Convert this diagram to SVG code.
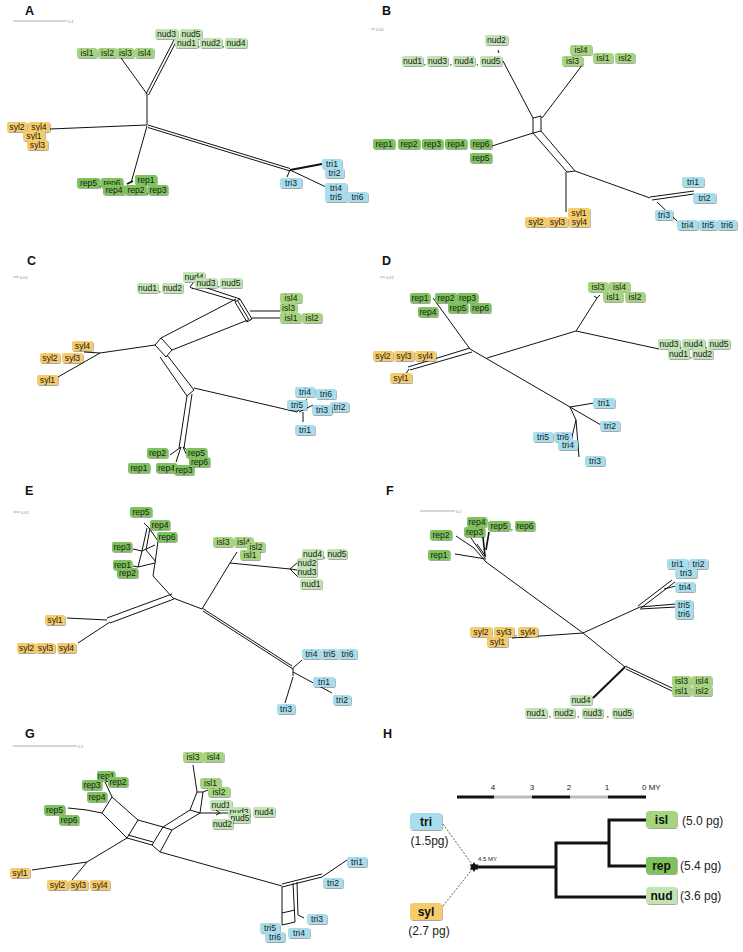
<svg xmlns="http://www.w3.org/2000/svg" width="743" height="952" viewBox="0 0 743 952">
<defs>
<filter id="sh" x="-20%" y="-30%" width="150%" height="170%"><feDropShadow dx="0.8" dy="1" stdDeviation="0.7" flood-color="#000" flood-opacity="0.35"/></filter>
<style>
.lb rect{rx:2px;filter:url(#sh)}
.lb text{font:8.6px "Liberation Sans",Arial,sans-serif;text-anchor:middle;fill:#1a1a1a}
.syl rect{fill:#F6CB6B}.isl rect{fill:#A5D57D}.rep rect{fill:#7DC25A}.nud rect{fill:#C1E4B3}.tri rect{fill:#A7DDEC}
.cm{font:9px "Liberation Sans",Arial,sans-serif;fill:#222}
.e path{stroke:#111;stroke-width:1;fill:none}
.pl{font:bold 12.5px "Liberation Sans",Arial,sans-serif;fill:#111}
.sb line{stroke:#999;stroke-width:0.8}
.sb text{font:4px "Liberation Sans",Arial,sans-serif;fill:#888}
.hb rect{rx:3px;filter:url(#sh)}
.hb text{font:bold 12px "Liberation Sans",Arial,sans-serif;text-anchor:middle;fill:#111}
.hv{font:12px "Liberation Sans",Arial,sans-serif;fill:#222}
.hs{font:8px "Liberation Sans",Arial,sans-serif;fill:#222}
</style>
</defs>
<rect width="743" height="952" fill="#fff"/>

<!-- ================= PANEL A ================= -->
<g id="panel-A">
<text class="pl" x="25" y="15">A</text>
<g class="sb"><line x1="13" y1="21" x2="67" y2="21"/><text x="68" y="22.5">0.1</text></g>
<g id="A-edges" class="e">
<path d="M147,125V94M147,94L121,58M146,94L174,40M148.5,95L176.5,41M147,125L50,129M147,126L131,183M148,125L290,168.5M148,127.5L290,171M290,170L326,187M290,170L287,177"/>
<path d="M127,184L133,181M290,170L322,164" style="stroke-width:1.8"/>
</g>
<g id="A-nodes">
<g id="A-nud3" class="lb nud"><rect x="155" y="29" width="23" height="10"/><text x="166.5" y="37">nud3</text></g>
<g id="A-nud5" class="lb nud"><rect x="180" y="29" width="22" height="10"/><text x="191" y="37">nud5</text></g>
<g id="A-nud1" class="lb nud"><rect x="175" y="38" width="23" height="10"/><text x="186.5" y="46">nud1</text></g>
<g id="A-nud2" class="lb nud"><rect x="200" y="38" width="22" height="10"/><text x="211" y="46">nud2</text></g>
<g id="A-nud4" class="lb nud"><rect x="225" y="38" width="22" height="10"/><text x="236" y="46">nud4</text></g>
<text class="cm" x="197.5" y="47">,</text><text class="cm" x="222" y="47">,</text>
<g id="A-isl1" class="lb isl"><rect x="77" y="48" width="20" height="10"/><text x="87" y="56">isl1</text></g>
<g id="A-isl2" class="lb isl"><rect x="98" y="48" width="19" height="10"/><text x="107.5" y="56">isl2</text></g>
<g id="A-isl3" class="lb isl"><rect x="117" y="48" width="17" height="10"/><text x="125.5" y="56">isl3</text></g>
<g id="A-isl4" class="lb isl"><rect x="135" y="48" width="19" height="10"/><text x="144.5" y="56">isl4</text></g>
<g id="A-syl2" class="lb syl"><rect x="7" y="122" width="20" height="10"/><text x="17" y="130">syl2</text></g>
<g id="A-syl4" class="lb syl"><rect x="28" y="122" width="22" height="10"/><text x="39" y="130">syl4</text></g>
<g id="A-syl1" class="lb syl"><rect x="23" y="131" width="22" height="10"/><text x="34" y="139">syl1</text></g>
<g id="A-syl3" class="lb syl"><rect x="27" y="140" width="21" height="10"/><text x="37.5" y="148">syl3</text></g>
<g id="A-rep5" class="lb rep"><rect x="77" y="178" width="23" height="10"/><text x="88.5" y="186">rep5</text></g>
<g id="A-rep6" class="lb rep"><rect x="101" y="178" width="22" height="10"/><text x="112" y="186">rep6</text></g>
<g id="A-rep1" class="lb rep"><rect x="135" y="175" width="22" height="10"/><text x="146" y="183">rep1</text></g>
<g id="A-rep4" class="lb rep"><rect x="103" y="185" width="22" height="10"/><text x="114" y="193">rep4</text></g>
<g id="A-rep2" class="lb rep"><rect x="125" y="185" width="22" height="10"/><text x="136" y="193">rep2</text></g>
<g id="A-rep3" class="lb rep"><rect x="148" y="185" width="20" height="10"/><text x="158" y="193">rep3</text></g>
<text class="cm" x="99" y="187">,</text><text class="cm" x="146" y="194">,</text>
<g id="A-tri1" class="lb tri"><rect x="322" y="159" width="20" height="10"/><text x="332" y="167">tri1</text></g>
<g id="A-tri2" class="lb tri"><rect x="325" y="168" width="19" height="10"/><text x="334.5" y="176">tri2</text></g>
<g id="A-tri3" class="lb tri"><rect x="280" y="178" width="22" height="10"/><text x="291" y="186">tri3</text></g>
<g id="A-tri4" class="lb tri"><rect x="325" y="183" width="22" height="10"/><text x="336" y="191">tri4</text></g>
<g id="A-tri5" class="lb tri"><rect x="325" y="192" width="22" height="10"/><text x="336" y="200">tri5</text></g>
<g id="A-tri6" class="lb tri"><rect x="347" y="192" width="21" height="10"/><text x="357.5" y="200">tri6</text></g>
</g>
</g>

<!-- ================= PANEL B ================= -->
<g id="panel-B">
<text class="pl" x="382" y="15">B</text>
<g class="sb"><line x1="371" y1="29" x2="375" y2="29"/><text x="376" y="30.5">0.01</text></g>
<g id="B-edges" class="e">
<path d="M498,50L499,53M503,61L533,118M583,64L542,118M533,118L541,116V131L533,133ZM492,146L533,133M533,133L567,172M541,131L575,171M567,172L575,171M566,172V212M575,171L650,198M650,197L694,191M652,200L694,194M657,202L677,221"/>
</g>
<g id="B-nodes">
<g id="B-nud2" class="lb nud"><rect x="485" y="35" width="23" height="10"/><text x="496.5" y="43">nud2</text></g>
<g id="B-nud1" class="lb nud"><rect x="402" y="56" width="21" height="10"/><text x="412.5" y="64">nud1</text></g>
<g id="B-nud3" class="lb nud"><rect x="427" y="56" width="21" height="10"/><text x="437.5" y="64">nud3</text></g>
<g id="B-nud4" class="lb nud"><rect x="453" y="56" width="22" height="10"/><text x="464" y="64">nud4</text></g>
<g id="B-nud5" class="lb nud"><rect x="480" y="56" width="22" height="10"/><text x="491" y="64">nud5</text></g>
<text class="cm" x="423.5" y="65">,</text><text class="cm" x="449.5" y="65">,</text><text class="cm" x="476" y="65">,</text>
<g id="B-isl3" class="lb isl"><rect x="562" y="56" width="21" height="10"/><text x="572.5" y="64">isl3</text></g>
<g id="B-isl4" class="lb isl"><rect x="570" y="45" width="22" height="10"/><text x="581" y="53">isl4</text></g>
<g id="B-isl1" class="lb isl"><rect x="593" y="53" width="20" height="10"/><text x="603" y="61">isl1</text></g>
<g id="B-isl2" class="lb isl"><rect x="615" y="53" width="20" height="10"/><text x="625" y="61">isl2</text></g>
<g id="B-rep1" class="lb rep"><rect x="373" y="139" width="22" height="10"/><text x="384" y="147">rep1</text></g>
<g id="B-rep2" class="lb rep"><rect x="398" y="139" width="22" height="10"/><text x="409" y="147">rep2</text></g>
<g id="B-rep3" class="lb rep"><rect x="422" y="139" width="21" height="10"/><text x="432.5" y="147">rep3</text></g>
<g id="B-rep4" class="lb rep"><rect x="445" y="139" width="22" height="10"/><text x="456" y="147">rep4</text></g>
<g id="B-rep6" class="lb rep"><rect x="470" y="139" width="22" height="10"/><text x="481" y="147">rep6</text></g>
<g id="B-rep5" class="lb rep"><rect x="470" y="153" width="22" height="10"/><text x="481" y="161">rep5</text></g>
<g id="B-syl1" class="lb syl"><rect x="568" y="208" width="22" height="10"/><text x="579" y="216">syl1</text></g>
<g id="B-syl2" class="lb syl"><rect x="525" y="217" width="22" height="10"/><text x="536" y="225">syl2</text></g>
<g id="B-syl3" class="lb syl"><rect x="547" y="217" width="21" height="10"/><text x="557.5" y="225">syl3</text></g>
<g id="B-syl4" class="lb syl"><rect x="569" y="217" width="21" height="10"/><text x="579.5" y="225">syl4</text></g>
<g id="B-tri1" class="lb tri"><rect x="682" y="177" width="22" height="10"/><text x="693" y="185">tri1</text></g>
<g id="B-tri2" class="lb tri"><rect x="693" y="193" width="23" height="10"/><text x="704.5" y="201">tri2</text></g>
<g id="B-tri3" class="lb tri"><rect x="655" y="210" width="18" height="10"/><text x="664" y="218">tri3</text></g>
<g id="B-tri4" class="lb tri"><rect x="677" y="220" width="21" height="10"/><text x="687.5" y="228">tri4</text></g>
<g id="B-tri5" class="lb tri"><rect x="699" y="220" width="18" height="10"/><text x="708" y="228">tri5</text></g>
<g id="B-tri6" class="lb tri"><rect x="717" y="220" width="20" height="10"/><text x="727" y="228">tri6</text></g>
</g>
</g>

<!-- ================= PANEL C ================= -->
<g id="panel-C">
<text class="pl" x="27" y="265">C</text>
<g class="sb"><line x1="13" y1="277" x2="19" y2="277"/><text x="20" y="278.5">0.01</text></g>
<g id="C-edges" class="e">
<path d="M155,345L161,338L172,350L166,357ZM155,345L100,353M100,353L84,352M100,353L58,377M161,338L236,299M172,350L248,320M235,302L240,299L252,319L247,322ZM237.5,300.5L249.5,320.5M250,311H280M252,318H280M236,301L192,288M240,299L195,284M193,283L190,287L193,289M160,357L187,396M167,355L194,390M187,396L194,390M194,388L297,412M297,412L307,399M299,412L313,405M303,412V422M187,396L179,448M192,394L184,448M181,447L170,455M181,447L176,462M183,447L188,458M183,447L190,452"/>
</g>
<g id="C-nodes">
<g id="C-nud1" class="lb nud"><rect x="137" y="283" width="21" height="10"/><text x="147.5" y="291">nud1</text></g>
<g id="C-nud2" class="lb nud"><rect x="162" y="283" width="21" height="10"/><text x="172.5" y="291">nud2</text></g>
<g id="C-nud4" class="lb nud"><rect x="183" y="272" width="22" height="10"/><text x="194" y="280">nud4</text></g>
<g id="C-nud3" class="lb nud"><rect x="195" y="278" width="22" height="10"/><text x="206" y="286">nud3</text></g>
<g id="C-nud5" class="lb nud"><rect x="220" y="278" width="22" height="10"/><text x="231" y="286">nud5</text></g>
<text class="cm" x="158.5" y="292">,</text><text class="cm" x="217.5" y="287">,</text>
<g id="C-isl4" class="lb isl"><rect x="280" y="293" width="22" height="10"/><text x="291" y="301">isl4</text></g>
<g id="C-isl3" class="lb isl"><rect x="280" y="303" width="17" height="10"/><text x="288.5" y="311">isl3</text></g>
<g id="C-isl1" class="lb isl"><rect x="280" y="313" width="21" height="10"/><text x="291" y="321">isl1</text></g>
<g id="C-isl2" class="lb isl"><rect x="302" y="313" width="20" height="10"/><text x="312" y="321">isl2</text></g>
<g id="C-syl4" class="lb syl"><rect x="72" y="341" width="21" height="10"/><text x="82.5" y="349">syl4</text></g>
<g id="C-syl2" class="lb syl"><rect x="40" y="353" width="20" height="10"/><text x="50" y="361">syl2</text></g>
<g id="C-syl3" class="lb syl"><rect x="62" y="353" width="21" height="10"/><text x="72.5" y="361">syl3</text></g>
<g id="C-syl1" class="lb syl"><rect x="37" y="375" width="21" height="10"/><text x="47.5" y="383">syl1</text></g>
<g id="C-tri4" class="lb tri"><rect x="295" y="387" width="20" height="10"/><text x="305" y="395">tri4</text></g>
<g id="C-tri6" class="lb tri"><rect x="316" y="389" width="20" height="10"/><text x="326" y="397">tri6</text></g>
<g id="C-tri5" class="lb tri"><rect x="287" y="400" width="20" height="10"/><text x="297" y="408">tri5</text></g>
<g id="C-tri2" class="lb tri"><rect x="330" y="402" width="19" height="10"/><text x="339.5" y="410">tri2</text></g>
<g id="C-tri3" class="lb tri"><rect x="312" y="405" width="20" height="10"/><text x="322" y="413">tri3</text></g>
<g id="C-tri1" class="lb tri"><rect x="295" y="425" width="20" height="10"/><text x="305" y="433">tri1</text></g>
<g id="C-rep2" class="lb rep"><rect x="147" y="448" width="21" height="10"/><text x="157.5" y="456">rep2</text></g>
<g id="C-rep5" class="lb rep"><rect x="186" y="448" width="21" height="10"/><text x="196.5" y="456">rep5</text></g>
<g id="C-rep6" class="lb rep"><rect x="189" y="457" width="21" height="10"/><text x="199.5" y="465">rep6</text></g>
<g id="C-rep1" class="lb rep"><rect x="128" y="463" width="22" height="10"/><text x="139" y="471">rep1</text></g>
<g id="C-rep4" class="lb rep"><rect x="156" y="463" width="21" height="10"/><text x="166.5" y="471">rep4</text></g>
<g id="C-rep3" class="lb rep"><rect x="174" y="465" width="20" height="10"/><text x="184" y="473">rep3</text></g>
</g>
</g>

<!-- ================= PANEL D ================= -->
<g id="panel-D">
<text class="pl" x="382" y="265">D</text>
<g class="sb"><line x1="380" y1="277" x2="385" y2="277"/><text x="386" y="278.5">0.01</text></g>
<g id="D-edges" class="e">
<path d="M470,349L433,298M470,348L408,367M472,352L410,370M409,369L405,375M487,358L576,331M576,331L597,298M597,298L600,295M597,298L594,296M576,331L659,349M470,349L570,407M570,407L594,403M570,407L601,425M570,407L576,420L571,441M576,420L579,457"/>
</g>
<g id="D-nodes">
<g id="D-rep1" class="lb rep"><rect x="410" y="293" width="20" height="10"/><text x="420" y="301">rep1</text></g>
<g id="D-rep2" class="lb rep"><rect x="435" y="293" width="22" height="10"/><text x="446" y="301">rep2</text></g>
<g id="D-rep3" class="lb rep"><rect x="457" y="293" width="21" height="10"/><text x="467.5" y="301">rep3</text></g>
<g id="D-rep4" class="lb rep"><rect x="418" y="307" width="20" height="10"/><text x="428" y="315">rep4</text></g>
<g id="D-rep5" class="lb rep"><rect x="448" y="303" width="20" height="10"/><text x="458" y="311">rep5</text></g>
<g id="D-rep6" class="lb rep"><rect x="470" y="303" width="21" height="10"/><text x="480.5" y="311">rep6</text></g>
<g id="D-isl3" class="lb isl"><rect x="588" y="282" width="20" height="10"/><text x="598" y="290">isl3</text></g>
<g id="D-isl4" class="lb isl"><rect x="609" y="282" width="21" height="10"/><text x="619.5" y="290">isl4</text></g>
<g id="D-isl1" class="lb isl"><rect x="603" y="292" width="20" height="10"/><text x="613" y="300">isl1</text></g>
<g id="D-isl2" class="lb isl"><rect x="625" y="292" width="20" height="10"/><text x="635" y="300">isl2</text></g>
<g id="D-nud3" class="lb nud"><rect x="658" y="339" width="22" height="10"/><text x="669" y="347">nud3</text></g>
<g id="D-nud4" class="lb nud"><rect x="682" y="339" width="23" height="10"/><text x="693.5" y="347">nud4</text></g>
<g id="D-nud5" class="lb nud"><rect x="708" y="339" width="22" height="10"/><text x="719" y="347">nud5</text></g>
<g id="D-nud1" class="lb nud"><rect x="668" y="349" width="21" height="10"/><text x="678.5" y="357">nud1</text></g>
<g id="D-nud2" class="lb nud"><rect x="692" y="349" width="21" height="10"/><text x="702.5" y="357">nud2</text></g>
<text class="cm" x="679.5" y="348">,</text><text class="cm" x="705" y="348">,</text><text class="cm" x="689.5" y="358">,</text>
<g id="D-syl2" class="lb syl"><rect x="373" y="351" width="20" height="10"/><text x="383" y="359">syl2</text></g>
<g id="D-syl3" class="lb syl"><rect x="394" y="351" width="20" height="10"/><text x="404" y="359">syl3</text></g>
<g id="D-syl4" class="lb syl"><rect x="415" y="351" width="21" height="10"/><text x="425.5" y="359">syl4</text></g>
<g id="D-syl1" class="lb syl"><rect x="390" y="373" width="22" height="10"/><text x="401" y="381">syl1</text></g>
<g id="D-tri1" class="lb tri"><rect x="593" y="398" width="22" height="10"/><text x="604" y="406">tri1</text></g>
<g id="D-tri2" class="lb tri"><rect x="600" y="421" width="20" height="10"/><text x="610" y="429">tri2</text></g>
<g id="D-tri5" class="lb tri"><rect x="533" y="432" width="20" height="10"/><text x="543" y="440">tri5</text></g>
<g id="D-tri6" class="lb tri"><rect x="554" y="432" width="18" height="10"/><text x="563" y="440">tri6</text></g>
<g id="D-tri4" class="lb tri"><rect x="558" y="440" width="20" height="10"/><text x="568" y="448">tri4</text></g>
<g id="D-tri3" class="lb tri"><rect x="585" y="456" width="20" height="10"/><text x="595" y="464">tri3</text></g>
</g>
</g>

<!-- ================= PANEL E ================= -->
<g id="panel-E">
<text class="pl" x="25" y="495">E</text>
<g class="sb"><line x1="13" y1="512" x2="20" y2="512"/><text x="21" y="513.5">0.01</text></g>
<g id="E-edges" class="e">
<path d="M173,598L153,576M153,576L155,563L158,541L149,528L144,523M147,528L142,551M150,528L146,550M142,551L155,545M146,550L156,562M133,549L142,551M142,551L138,567L155,563M138,567L133,566M172,594L107,618M174,599L110,623M107,620L67,618M110,622L78,643M173,598L202,609M202,609L230,563M230,563L237,552M230,563L290,569M290,569L297,563M290,569L298,577M290,569L297,570M202,608L292,666M203,611L293,669M293,668L302,660M293,668V676M293,672L332,693M293,677L285,703"/>
</g>
<g id="E-nodes">
<g id="E-rep5" class="lb rep"><rect x="130" y="507" width="22" height="10"/><text x="141" y="515">rep5</text></g>
<g id="E-rep4" class="lb rep"><rect x="150" y="520" width="20" height="10"/><text x="160" y="528">rep4</text></g>
<g id="E-rep6" class="lb rep"><rect x="157" y="532" width="20" height="10"/><text x="167" y="540">rep6</text></g>
<g id="E-rep3" class="lb rep"><rect x="112" y="542" width="20" height="10"/><text x="122" y="550">rep3</text></g>
<g id="E-rep1" class="lb rep"><rect x="113" y="560" width="19" height="10"/><text x="122.5" y="568">rep1</text></g>
<g id="E-rep2" class="lb rep"><rect x="117" y="568" width="21" height="10"/><text x="127.5" y="576">rep2</text></g>
<g id="E-isl3" class="lb isl"><rect x="213" y="537" width="20" height="10"/><text x="223" y="545">isl3</text></g>
<g id="E-isl4" class="lb isl"><rect x="234" y="537" width="19" height="10"/><text x="243.5" y="545">isl4</text></g>
<g id="E-isl2" class="lb isl"><rect x="247" y="542" width="18" height="10"/><text x="256" y="550">isl2</text></g>
<g id="E-isl1" class="lb isl"><rect x="240" y="550" width="20" height="10"/><text x="250" y="558">isl1</text></g>
<g id="E-nud4" class="lb nud"><rect x="302" y="549" width="21" height="10"/><text x="312.5" y="557">nud4</text></g>
<g id="E-nud5" class="lb nud"><rect x="327" y="549" width="20" height="10"/><text x="337" y="557">nud5</text></g>
<text class="cm" x="323" y="558">,</text>
<g id="E-nud2" class="lb nud"><rect x="297" y="558" width="20" height="10"/><text x="307" y="566">nud2</text></g>
<g id="E-nud3" class="lb nud"><rect x="297" y="567" width="20" height="10"/><text x="307" y="575">nud3</text></g>
<g id="E-nud1" class="lb nud"><rect x="300" y="579" width="22" height="10"/><text x="311" y="587">nud1</text></g>
<g id="E-syl1" class="lb syl"><rect x="45" y="615" width="20" height="10"/><text x="55" y="623">syl1</text></g>
<g id="E-syl2" class="lb syl"><rect x="17" y="643" width="19" height="10"/><text x="26.5" y="651">syl2</text></g>
<g id="E-syl3" class="lb syl"><rect x="36" y="643" width="19" height="10"/><text x="45.5" y="651">syl3</text></g>
<g id="E-syl4" class="lb syl"><rect x="57" y="643" width="19" height="10"/><text x="66.5" y="651">syl4</text></g>
<g id="E-tri4" class="lb tri"><rect x="302" y="649" width="19" height="10"/><text x="311.5" y="657">tri4</text></g>
<g id="E-tri5" class="lb tri"><rect x="321" y="649" width="17" height="10"/><text x="329.5" y="657">tri5</text></g>
<g id="E-tri6" class="lb tri"><rect x="338" y="649" width="19" height="10"/><text x="347.5" y="657">tri6</text></g>
<g id="E-tri1" class="lb tri"><rect x="313" y="677" width="22" height="10"/><text x="324" y="685">tri1</text></g>
<g id="E-tri2" class="lb tri"><rect x="333" y="695" width="18" height="10"/><text x="342" y="703">tri2</text></g>
<g id="E-tri3" class="lb tri"><rect x="277" y="704" width="18" height="10"/><text x="286" y="712">tri3</text></g>
</g>
</g>

<!-- ================= PANEL F ================= -->
<g id="panel-F">
<text class="pl" x="386" y="495">F</text>
<g class="sb"><line x1="420" y1="511" x2="455" y2="511"/><text x="456" y="512.5">0.1</text></g>
<g id="F-edges" class="e">
<path d="M456,536L474,548L486,562M455,554L486,559M471,538L485,558M477,544L486,557M486,562L583,633M583,633L512,638M583,633L640,607M640,607L676,604M640,609L676,607M638,606L672,580M641,608L675,582M664,589L676,586M583,633L625,667M625,666L672,688M626,669L672,691"/>
<path d="M483,537L485,556M489,532L486,550" style="stroke-width:1.6"/>
<path d="M625,667L593,698" style="stroke-width:2"/>
</g>
<g id="F-nodes">
<g id="F-rep2" class="lb rep"><rect x="430" y="530" width="22" height="10"/><text x="441" y="538">rep2</text></g>
<g id="F-rep1" class="lb rep"><rect x="428" y="550" width="22" height="10"/><text x="439" y="558">rep1</text></g>
<g id="F-rep4" class="lb rep"><rect x="467" y="517" width="20" height="10"/><text x="477" y="525">rep4</text></g>
<g id="F-rep3" class="lb rep"><rect x="464" y="527" width="21" height="10"/><text x="474.5" y="535">rep3</text></g>
<g id="F-rep5" class="lb rep"><rect x="488" y="521" width="22" height="10"/><text x="499" y="529">rep5</text></g>
<g id="F-rep6" class="lb rep"><rect x="515" y="521" width="20" height="10"/><text x="525" y="529">rep6</text></g>
<text class="cm" x="510.5" y="530">,</text>
<g id="F-tri1" class="lb tri"><rect x="667" y="559" width="21" height="10"/><text x="677.5" y="567">tri1</text></g>
<g id="F-tri2" class="lb tri"><rect x="689" y="559" width="19" height="10"/><text x="698.5" y="567">tri2</text></g>
<g id="F-tri3" class="lb tri"><rect x="675" y="568" width="22" height="10"/><text x="686" y="576">tri3</text></g>
<g id="F-tri4" class="lb tri"><rect x="675" y="582" width="20" height="10"/><text x="685" y="590">tri4</text></g>
<g id="F-tri5" class="lb tri"><rect x="675" y="600" width="18" height="10"/><text x="684" y="608">tri5</text></g>
<g id="F-tri6" class="lb tri"><rect x="675" y="609" width="18" height="10"/><text x="684" y="617">tri6</text></g>
<g id="F-syl2" class="lb syl"><rect x="470" y="627" width="22" height="10"/><text x="481" y="635">syl2</text></g>
<g id="F-syl3" class="lb syl"><rect x="494" y="627" width="20" height="10"/><text x="504" y="635">syl3</text></g>
<g id="F-syl4" class="lb syl"><rect x="518" y="627" width="20" height="10"/><text x="528" y="635">syl4</text></g>
<text class="cm" x="514.5" y="636">,</text>
<g id="F-syl1" class="lb syl"><rect x="487" y="637" width="21" height="10"/><text x="497.5" y="645">syl1</text></g>
<g id="F-isl3" class="lb isl"><rect x="672" y="676" width="19" height="10"/><text x="681.5" y="684">isl3</text></g>
<g id="F-isl4" class="lb isl"><rect x="692" y="676" width="20" height="10"/><text x="702" y="684">isl4</text></g>
<g id="F-isl1" class="lb isl"><rect x="672" y="686" width="19" height="10"/><text x="681.5" y="694">isl1</text></g>
<g id="F-isl2" class="lb isl"><rect x="692" y="686" width="20" height="10"/><text x="702" y="694">isl2</text></g>
<g id="F-nud4" class="lb nud"><rect x="570" y="695" width="22" height="10"/><text x="581" y="703">nud4</text></g>
<g id="F-nud1" class="lb nud"><rect x="525" y="708" width="22" height="10"/><text x="536" y="716">nud1</text></g>
<g id="F-nud2" class="lb nud"><rect x="553" y="708" width="22" height="10"/><text x="564" y="716">nud2</text></g>
<g id="F-nud3" class="lb nud"><rect x="582" y="708" width="21" height="10"/><text x="592.5" y="716">nud3</text></g>
<g id="F-nud5" class="lb nud"><rect x="612" y="708" width="21" height="10"/><text x="622.5" y="716">nud5</text></g>
<text class="cm" x="548.5" y="717">,</text><text class="cm" x="577" y="717">,</text><text class="cm" x="606.5" y="717">,</text>
</g>
</g>

<!-- ================= PANEL G ================= -->
<g id="panel-G">
<text class="pl" x="25" y="738">G</text>
<g class="sb"><line x1="13" y1="746" x2="77" y2="746"/><text x="78" y="747.5">0.1</text></g>
<g id="G-edges" class="e">
<path d="M68,808Q85,809 102,813M102,813L112,797L138,820L127,838ZM112,797L105,782M106,782L110,780M138,820L163,827M127,838L152,845M128,835L153,842M152,845L163,827L172,830L160,852ZM172,830L200,813M163,827L190,810M190,810L197,792L203,792L200,813ZM197,792L193,765M203,792L208,790M200,813L228,813M216,810L220,813L216,815M127,838L87,862M87,862L32,870M87,862L72,880M160,852L282,886M282,887L322,877M282,884L322,874M322,877L347,860M282,887V925M293,883L295,922M297,882L298,915M282,913L295,910M282,925L295,922M298,915L304,918"/>
</g>
<g id="G-nodes">
<g id="G-isl3" class="lb isl"><rect x="183" y="752" width="20" height="10"/><text x="193" y="760">isl3</text></g>
<g id="G-isl4" class="lb isl"><rect x="203" y="752" width="21" height="10"/><text x="213.5" y="760">isl4</text></g>
<g id="G-isl1" class="lb isl"><rect x="200" y="778" width="21" height="10"/><text x="210.5" y="786">isl1</text></g>
<g id="G-isl2" class="lb isl"><rect x="208" y="787" width="22" height="10"/><text x="219" y="795">isl2</text></g>
<g id="G-nud1" class="lb nud"><rect x="210" y="800" width="22" height="10"/><text x="221" y="808">nud1</text></g>
<g id="G-nud3" class="lb nud"><rect x="228" y="807" width="22" height="10"/><text x="239" y="815">nud3</text></g>
<g id="G-nud4" class="lb nud"><rect x="253" y="807" width="22" height="10"/><text x="264" y="815">nud4</text></g>
<g id="G-nud5" class="lb nud"><rect x="230" y="813" width="20" height="10"/><text x="240" y="821">nud5</text></g>
<g id="G-nud2" class="lb nud"><rect x="212" y="819" width="21" height="10"/><text x="222.5" y="827">nud2</text></g>
<g id="G-rep1" class="lb rep"><rect x="97" y="771" width="18" height="10"/><text x="106" y="779">rep1</text></g>
<g id="G-rep3" class="lb rep"><rect x="82" y="780" width="20" height="10"/><text x="92" y="788">rep3</text></g>
<g id="G-rep2" class="lb rep"><rect x="108" y="777" width="20" height="10"/><text x="118" y="785">rep2</text></g>
<g id="G-rep4" class="lb rep"><rect x="87" y="792" width="20" height="10"/><text x="97" y="800">rep4</text></g>
<g id="G-rep5" class="lb rep"><rect x="44" y="805" width="21" height="10"/><text x="54.5" y="813">rep5</text></g>
<g id="G-rep6" class="lb rep"><rect x="59" y="815" width="20" height="10"/><text x="69" y="823">rep6</text></g>
<g id="G-syl1" class="lb syl"><rect x="10" y="868" width="20" height="10"/><text x="20" y="876">syl1</text></g>
<g id="G-syl2" class="lb syl"><rect x="47" y="880" width="21" height="10"/><text x="57.5" y="888">syl2</text></g>
<g id="G-syl3" class="lb syl"><rect x="69" y="880" width="19" height="10"/><text x="78.5" y="888">syl3</text></g>
<g id="G-syl4" class="lb syl"><rect x="90" y="880" width="20" height="10"/><text x="100" y="888">syl4</text></g>
<g id="G-tri1" class="lb tri"><rect x="347" y="857" width="20" height="10"/><text x="357" y="865">tri1</text></g>
<g id="G-tri2" class="lb tri"><rect x="323" y="878" width="20" height="10"/><text x="333" y="886">tri2</text></g>
<g id="G-tri3" class="lb tri"><rect x="307" y="914" width="20" height="10"/><text x="317" y="922">tri3</text></g>
<g id="G-tri5" class="lb tri"><rect x="260" y="923" width="20" height="10"/><text x="270" y="931">tri5</text></g>
<g id="G-tri4" class="lb tri"><rect x="288" y="928" width="22" height="10"/><text x="299" y="936">tri4</text></g>
<g id="G-tri6" class="lb tri"><rect x="265" y="932" width="20" height="10"/><text x="275" y="940">tri6</text></g>
</g>
</g>

<!-- ================= PANEL H ================= -->
<g id="panel-H">
<text class="pl" x="383" y="738">H</text>
<g id="H-scale">
<path d="M457,797H494M532,797H570M608,797H646" stroke="#111" stroke-width="3" fill="none"/>
<path d="M494,797H532M570,797H608" stroke="#bbb" stroke-width="3" fill="none"/>
<text class="hs" x="493" y="790" text-anchor="middle">4</text>
<text class="hs" x="532" y="790" text-anchor="middle">3</text>
<text class="hs" x="569" y="790" text-anchor="middle">2</text>
<text class="hs" x="607" y="790" text-anchor="middle">1</text>
<text class="hs" x="642" y="790">0 MY</text>
</g>
<g id="H-edges">
<path d="M443,824L474,867M443,906L474,867" stroke="#333" stroke-width="0.8" stroke-dasharray="2,1.5" fill="none"/>
<path d="M474,867H556M556,843V897M556,843H609M609,820V866M609,820H647M609,866H647M556,897H647" stroke="#111" stroke-width="3" fill="none" stroke-linecap="square"/>
<polygon points="474,862 478.3,869.5 469.7,869.5" fill="#111"/>
<polygon points="474,872 478.3,864.5 469.7,864.5" fill="#111"/>
<text x="478" y="861" font-family="Liberation Sans, Arial, sans-serif" font-size="6" fill="#222">4.5 MY</text>
</g>
<g id="H-tri" class="hb"><rect x="410" y="813" width="32" height="17" fill="#A7DDEC"/><text x="426" y="826">tri</text></g>
<text class="hv" x="429.5" y="845" text-anchor="middle">(1.5pg)</text>
<g id="H-syl" class="hb"><rect x="410" y="903" width="32" height="17" fill="#F6CB6B"/><text x="426" y="916">syl</text></g>
<text class="hv" x="429" y="935" text-anchor="middle">(2.7 pg)</text>
<g id="H-isl" class="hb"><rect x="646" y="811" width="31" height="17" fill="#A5D57D"/><text x="661.5" y="824">isl</text></g>
<text class="hv" x="682" y="825">(5.0 pg)</text>
<g id="H-rep" class="hb"><rect x="646" y="857" width="31" height="17" fill="#7DC25A"/><text x="661.5" y="870">rep</text></g>
<text class="hv" x="680" y="870">(5.4 pg)</text>
<g id="H-nud" class="hb"><rect x="646" y="887" width="31" height="17" fill="#C1E4B3"/><text x="661.5" y="900">nud</text></g>
<text class="hv" x="680" y="900">(3.6 pg)</text>
</g>
</svg>
